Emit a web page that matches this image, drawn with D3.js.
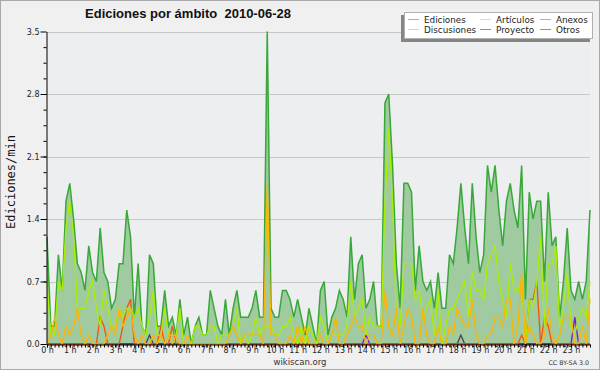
<!DOCTYPE html>
<html>
<head>
<meta charset="utf-8">
<script src="https://cdn.jsdelivr.net/npm/d3@7"></script>
<style>
  body { margin: 0; background: #fff; }
  svg { display: block; }
</style>
</head>
<body>
<svg id="chart" width="600" height="370"></svg>
<script>
// edits per minute, one value every 10 minutes (00:00 .. 23:50)
const ediciones = [
  1.2, 0.2, 0.2, 1.0, 0.6, 1.6, 1.8, 1.4, 0.9, 0.8, 0.6, 1.1,
  0.8, 0.7, 1.3, 0.8, 0.7, 0.4, 0.5, 0.9, 0.9, 1.5, 1.2, 0.3,
  0.9, 0.2, 0.1, 1.0, 0.9, 0.2, 0.2, 0.6, 0.2, 0.3, 0.1, 0.5,
  0.1, 0.3, 0.0, 0.2, 0.3, 0.1, 0.1, 0.6, 0.4, 0.2, 0.1, 0.5,
  0.1, 0.4, 0.6, 0.3, 0.3, 0.3, 0.4, 0.6, 0.3, 0.3, 3.5, 0.4,
  0.3, 0.3, 0.6, 0.6, 0.5, 0.3, 0.5, 0.3, 0.1, 0.4, 0.2, 0.0,
  0.6, 0.7, 0.1, 0.3, 0.4, 0.6, 0.5, 0.3, 1.2, 0.5, 0.9, 1.0,
  0.4, 0.5, 0.7, 0.2, 0.2, 2.7, 2.8, 2.0, 0.9, 0.4, 1.8, 1.8,
  1.7, 0.6, 1.1, 0.7, 0.6, 0.7, 0.4, 0.8, 0.4, 0.4, 1.0, 0.9,
  1.3, 1.8, 1.3, 0.9, 1.8, 1.2, 0.8, 1.0, 2.0, 1.7, 2.0, 1.5,
  1.1, 1.6, 1.8, 1.5, 1.3, 2.0, 0.5, 1.7, 1.4, 1.6, 1.6, 0.7,
  1.7, 1.1, 1.2, 0.3, 0.7, 1.3, 0.6, 0.5, 0.7, 0.5, 0.7, 1.5
];
const articulos = [
  0.7, 0.1, 0.1, 0.7, 0.6, 1.3, 1.6, 1.2, 0.4, 0.4, 0.4, 0.6,
  0.7, 0.4, 0.2, 0.6, 0.4, 0.2, 0.2, 0.4, 0.3, 0.4, 0.4, 0.3,
  0.4, 0.2, 0.1, 0.3, 0.6, 0.1, 0.1, 0.4, 0.1, 0.1, 0.1, 0.4,
  0.0, 0.0, 0.0, 0.2, 0.2, 0.1, 0.1, 0.2, 0.2, 0.0, 0.1, 0.1,
  0.1, 0.2, 0.4, 0.0, 0.1, 0.0, 0.1, 0.3, 0.1, 0.2, 0.2, 0.2,
  0.1, 0.1, 0.2, 0.2, 0.3, 0.1, 0.0, 0.2, 0.0, 0.2, 0.1, 0.0,
  0.3, 0.2, 0.0, 0.1, 0.1, 0.1, 0.1, 0.2, 0.7, 0.3, 0.4, 0.5,
  0.1, 0.3, 0.2, 0.2, 0.2, 1.6, 2.4, 1.6, 0.3, 0.2, 0.9, 0.9,
  0.9, 0.5, 0.6, 0.3, 0.4, 0.5, 0.1, 0.6, 0.0, 0.2, 0.4, 0.4,
  0.5, 0.6, 0.7, 0.3, 0.8, 0.6, 0.6, 0.5, 0.9, 1.0, 1.1, 0.7,
  0.5, 0.3, 0.9, 0.6, 0.6, 0.7, 0.0, 0.5, 0.4, 0.7, 1.2, 0.2,
  0.9, 0.9, 1.1, 0.2, 0.4, 0.8, 0.2, 0.1, 0.3, 0.4, 0.3, 0.7
];
const discusiones = [
  0.0, 0.1, 0.3, 0.1, 0.0, 0.2, 0.1, 0.2, 0.4, 0.1, 0.0, 0.1,
  0.0, 0.0, 0.0, 0.0, 0.1, 0.2, 0.1, 0.4, 0.2, 0.3, 0.4, 0.1,
  0.0, 0.1, 0.0, 0.0, 0.1, 0.0, 0.1, 0.0, 0.1, 0.0, 0.1, 0.0,
  0.0, 0.1, 0.0, 0.0, 0.0, 0.0, 0.0, 0.0, 0.0, 0.0, 0.0, 0.0,
  0.1, 0.2, 0.1, 0.0, 0.1, 0.1, 0.1, 0.1, 0.1, 0.0, 1.8, 0.1,
  0.1, 0.0, 0.0, 0.0, 0.1, 0.0, 0.2, 0.0, 0.2, 0.0, 0.0, 0.0,
  0.1, 0.0, 0.0, 0.1, 0.3, 0.0, 0.0, 0.1, 0.2, 0.3, 0.2, 0.2,
  0.0, 0.1, 0.1, 0.0, 0.0, 0.6, 0.2, 0.1, 0.4, 0.0, 0.2, 0.4,
  0.3, 0.0, 0.0, 0.4, 0.1, 0.0, 0.0, 0.2, 0.0, 0.0, 0.2, 0.1,
  0.4, 0.3, 0.2, 0.2, 0.5, 0.1, 0.0, 0.0, 0.1, 0.1, 0.3, 0.3,
  0.2, 0.5, 0.5, 0.0, 0.2, 0.8, 0.0, 0.2, 0.1, 0.0, 0.0, 0.1,
  0.4, 0.1, 0.0, 0.1, 0.3, 0.3, 0.3, 0.0, 0.0, 0.2, 0.0, 0.5
];
const anexos = [
  0, 0, 0, 0, 0, 0, 0, 0, 0, 0, 0, 0,
  0, 0, 0.3, 0.2, 0, 0, 0, 0, 0.2, 0.4, 0.5, 0,
  0, 0, 0, 0, 0, 0, 0.2, 0, 0, 0.2, 0, 0,
  0, 0, 0, 0, 0, 0, 0, 0, 0, 0, 0, 0,
  0, 0, 0, 0, 0, 0, 0, 0, 0, 0, 0, 0,
  0, 0, 0, 0, 0, 0, 0, 0, 0, 0, 0, 0,
  0, 0, 0, 0, 0, 0, 0, 0, 0, 0, 0, 0,
  0, 0, 0, 0, 0, 0, 0, 0, 0, 0, 0, 0,
  0, 0, 0, 0, 0, 0, 0, 0, 0, 0, 0, 0,
  0, 0, 0, 0, 0, 0, 0, 0, 0, 0, 0, 0,
  0, 0, 0, 0, 0, 0.1, 0, 0.5, 0.5, 0.7, 0, 0.3,
  0.2, 0, 0, 0, 0, 0, 0, 0, 0, 0, 0, 0
];
const proyecto = [
  0, 0, 0, 0, 0, 0, 0, 0, 0, 0, 0, 0,
  0, 0, 0, 0, 0, 0, 0, 0, 0, 0, 0, 0,
  0, 0, 0, 0.1, 0, 0, 0, 0, 0, 0, 0, 0,
  0, 0, 0, 0, 0, 0, 0, 0, 0, 0, 0, 0,
  0, 0, 0, 0, 0, 0, 0, 0, 0, 0, 0, 0,
  0, 0, 0, 0, 0, 0, 0, 0, 0, 0, 0, 0,
  0, 0, 0, 0, 0, 0, 0, 0, 0, 0, 0, 0,
  0, 0, 0, 0, 0, 0, 0, 0, 0, 0, 0, 0,
  0, 0, 0, 0, 0, 0, 0, 0, 0, 0, 0, 0,
  0, 0.1, 0, 0, 0, 0, 0, 0, 0, 0, 0, 0,
  0, 0, 0, 0, 0, 0, 0, 0, 0, 0, 0, 0,
  0, 0, 0, 0, 0, 0, 0, 0, 0, 0, 0, 0
];
const otros = [
  0, 0, 0, 0, 0, 0, 0, 0, 0, 0, 0, 0,
  0, 0, 0, 0, 0, 0, 0, 0, 0, 0, 0, 0,
  0, 0, 0, 0, 0, 0, 0, 0, 0, 0, 0, 0,
  0, 0, 0, 0, 0, 0, 0, 0, 0, 0, 0, 0,
  0, 0, 0, 0, 0, 0, 0, 0, 0, 0, 0, 0,
  0, 0, 0, 0, 0, 0, 0, 0, 0, 0, 0, 0,
  0, 0, 0, 0, 0, 0, 0, 0, 0, 0, 0, 0,
  0.1, 0, 0, 0, 0, 0, 0, 0, 0, 0, 0, 0,
  0, 0, 0, 0, 0, 0, 0, 0, 0, 0, 0, 0,
  0, 0, 0, 0, 0, 0, 0, 0, 0, 0, 0, 0,
  0, 0, 0, 0, 0, 0, 0, 0, 0, 0, 0, 0,
  0, 0, 0, 0, 0, 0, 0, 0.3, 0, 0, 0, 0
];

const hourLabels = ["0 h", "1 h", "2 h", "3 h", "4 h", "5 h", "6 h", "7 h", "8 h", "9 h", "10 h", "11 h",
  "12 h", "13 h", "14 h", "15 h", "16 h", "17 h", "18 h", "19 h", "20 h", "21 h", "22 h", "23 h"];
const yTicks = [0, 0.7, 1.4, 2.1, 2.8, 3.5];

const svg = d3.select('#chart');

// background + frame
svg.append('rect')
  .attr('x', 0.5).attr('y', 0.5).attr('width', 599).attr('height', 369)
  .attr('fill', '#f0f0f0').attr('stroke', '#a8a8a8');

const x = d3.scaleLinear().domain([0, ediciones.length - 1]).range([47, 590]);
const y = d3.scaleLinear().domain([0, 3.5]).range([344, 31.5]);

svg.append('rect')
  .attr('x', 47).attr('y', 31.5).attr('width', 543).attr('height', 312.5)
  .attr('fill', '#eceef0');

// grid lines
svg.append('g')
  .selectAll('line')
  .data(yTicks.filter(d => d > 0))
  .enter()
  .append('line')
  .attr('x1', 47).attr('x2', 590)
  .attr('y1', d => Math.round(y(d)) + 0.5).attr('y2', d => Math.round(y(d)) + 0.5)
  .attr('stroke', '#c8c8c8');

// Ediciones area + line
svg.append('path')
  .datum(ediciones)
  .attr('fill', '#a0caa0')
  .attr('d', d3.area().x((d, i) => x(i)).y0(y(0)).y1(d => y(d)));

svg.append('path')
  .datum(ediciones)
  .attr('fill', 'none')
  .attr('stroke', '#38a838')
  .attr('stroke-width', 1.5)
  .attr('d', d3.line().x((d, i) => x(i)).y(d => y(d)));

const line = d3.line().x((d, i) => x(i)).y(d => y(d));

// the rarely used series go first so the baseline is not coloured by them
const lines = [
  { values: otros, color: '#7711ee' },
  { values: proyecto, color: '#444444' },
  { values: anexos, color: '#ee5511' },
  { values: articulos, color: '#aaee00' },
  { values: discusiones, color: '#ffb400' }
];

lines.forEach(s => {
  svg.append('path')
    .datum(s.values)
    .attr('fill', 'none')
    .attr('stroke', s.color)
    .attr('stroke-width', 1.3)
    .attr('d', line);
});

// Y axis
svg.append('g')
  .attr('transform', 'translate(46.5,0)')
  .call(d3.axisLeft(y).tickValues(yTicks).tickSize(6).tickPadding(1).tickSizeOuter(0)
    .tickFormat(d3.format('.1f')));
svg.append('g')
  .attr('transform', 'translate(46.5,0)')
  .call(d3.axisLeft(y).tickValues(d3.range(0, 3.5, 0.175)).tickSize(3).tickSizeOuter(0).tickFormat(''))
  .select('.domain').remove();

// X axis
svg.append('g')
  .attr('transform', 'translate(0,344.5)')
  .call(d3.axisBottom(x).tickValues(d3.range(0, ediciones.length, 6)).tickSize(3).tickPadding(0).tickSizeOuter(0)
    .tickFormat(d => hourLabels[d / 6]));
svg.append('g')
  .attr('transform', 'translate(0,344.5)')
  .call(d3.axisBottom(x).tickValues(d3.range(0, ediciones.length)).tickSize(3).tickSizeOuter(0).tickFormat(''))
  .select('.domain').remove();

svg.selectAll('.tick text')
  .style('font-family', 'DejaVu Sans')
  .style('font-size', '8px')
  .style('fill', '#222');
svg.selectAll('.domain').attr('stroke', '#000');
svg.selectAll('.tick line').attr('stroke', '#000');

// Title
svg.append('text')
  .attr('x', 188).attr('y', 18)
  .attr('text-anchor', 'middle')
  .style('white-space', 'pre')
  .style('font-family', 'Liberation Sans')
  .style('font-size', '13px')
  .style('font-weight', 'bold')
  .style('fill', '#111')
  .text('Ediciones por ámbito  2010-06-28');

// Y axis label
svg.append('text')
  .attr('transform', 'translate(15,182) rotate(-90)')
  .attr('text-anchor', 'middle')
  .style('font-family', 'DejaVu Sans Mono')
  .style('font-size', '12px')
  .style('fill', '#111')
  .text('Ediciones/min');

// Legend
const legendItems = [
  { name: 'Ediciones', color: '#38a838', col: 0, row: 0 },
  { name: 'Artículos', color: '#aaee00', col: 1, row: 0 },
  { name: 'Anexos', color: '#ee5511', col: 2, row: 0 },
  { name: 'Discusiones', color: '#ffb400', col: 0, row: 1 },
  { name: 'Proyecto', color: '#444444', col: 1, row: 1 },
  { name: 'Otros', color: '#7711ee', col: 2, row: 1 }
];
const colX = [408, 480, 540];

svg.append('rect')
  .attr('x', 401).attr('y', 15).attr('width', 189).attr('height', 27)
  .attr('fill', '#858585');
svg.append('rect')
  .attr('x', 404.5).attr('y', 12.5).attr('width', 188).attr('height', 26)
  .attr('fill', '#fff').attr('stroke', '#b0b0b0');

const legend = svg.append('g').selectAll('g')
  .data(legendItems)
  .enter()
  .append('g')
  .attr('transform', d => `translate(${colX[d.col]},${19.5 + d.row * 10})`);

legend.append('line')
  .attr('x1', 0).attr('x2', 11)
  .attr('stroke', d => d.color)
  .attr('stroke-opacity', 0.6);

legend.append('text')
  .attr('x', 16).attr('y', 3)
  .style('font-family', 'DejaVu Sans')
  .style('font-size', '8.8px')
  .style('fill', '#222')
  .text(d => d.name);

// footer
svg.append('text')
  .attr('x', 300).attr('y', 365)
  .attr('text-anchor', 'middle')
  .style('font-family', 'DejaVu Sans')
  .style('font-size', '8.5px')
  .style('fill', '#333')
  .text('wikiscan.org');

svg.append('text')
  .attr('x', 589).attr('y', 365)
  .attr('text-anchor', 'end')
  .style('font-family', 'DejaVu Sans')
  .style('font-size', '6.3px')
  .style('fill', '#333')
  .text('CC BY-SA 3.0');
</script>
</body>
</html>
